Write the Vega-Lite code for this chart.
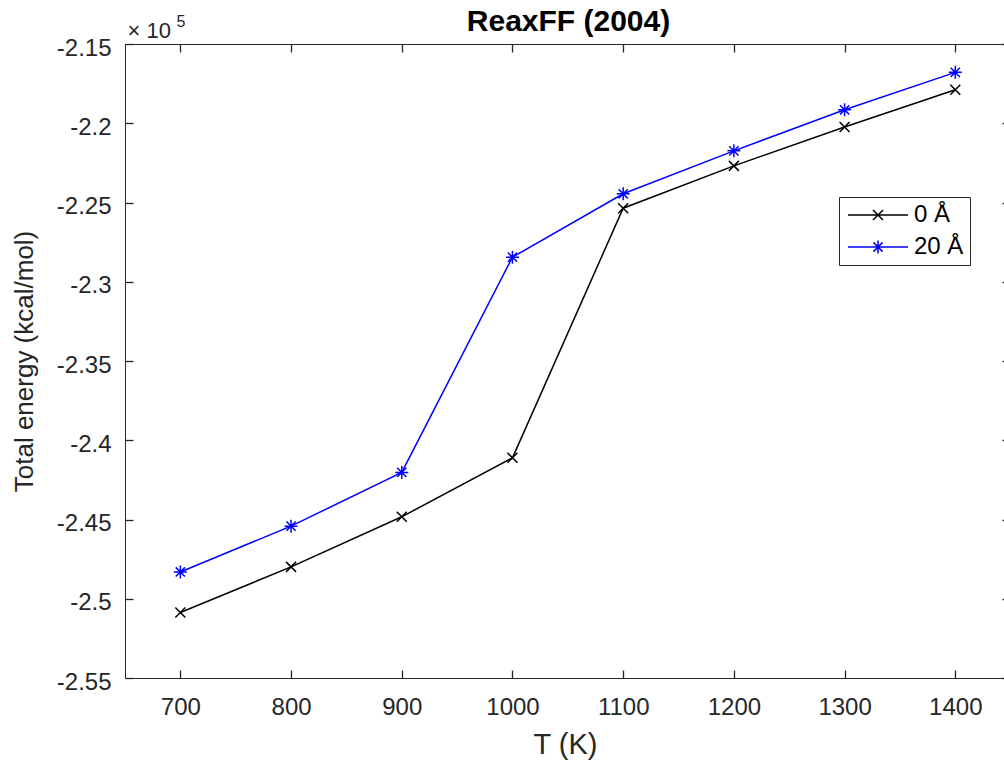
{
  "$schema": "https://vega.github.io/schema/vega-lite/v6.json",
  "width": 879,
  "height": 634,
  "autosize": {"type": "none"},
  "padding": {"left": 125, "top": 44, "right": 0, "bottom": 84},
  "background": "white",
  "config": {
    "view": {"stroke": null},
    "font": "Liberation Sans",
    "axis": {
      "grid": false,
      "domainColor": "#262626",
      "tickColor": "#262626",
      "labelColor": "#262626",
      "titleColor": "#262626",
      "labelFont": "Liberation Sans",
      "titleFont": "Liberation Sans",
      "labelFontSize": 24,
      "titleFontWeight": "normal",
      "domainWidth": 1,
      "tickWidth": 1.3,
      "ticks": true
    }
  },
  "data": {
    "values": [
      {"T": 700, "E": -250870, "series": "0 Å"},
      {"T": 800, "E": -247990, "series": "0 Å"},
      {"T": 900, "E": -244830, "series": "0 Å"},
      {"T": 1000, "E": -241110, "series": "0 Å"},
      {"T": 1100, "E": -225360, "series": "0 Å"},
      {"T": 1200, "E": -222690, "series": "0 Å"},
      {"T": 1300, "E": -220240, "series": "0 Å"},
      {"T": 1400, "E": -217890, "series": "0 Å"},
      {"T": 700, "E": -248310, "series": "20 Å"},
      {"T": 800, "E": -245420, "series": "20 Å"},
      {"T": 900, "E": -242030, "series": "20 Å"},
      {"T": 1000, "E": -228450, "series": "20 Å"},
      {"T": 1100, "E": -224450, "series": "20 Å"},
      {"T": 1200, "E": -221740, "series": "20 Å"},
      {"T": 1300, "E": -219150, "series": "20 Å"},
      {"T": 1400, "E": -216790, "series": "20 Å"}
    ]
  },
  "layer": [
    {
      "mark": {"type": "line", "strokeWidth": 1.5},
      "encoding": {
        "x": {
          "field": "T", "type": "quantitative",
          "scale": {"domain": [650, 1444], "nice": false, "zero": false},
          "axis": {
            "orient": "bottom",
            "values": [700, 800, 900, 1000, 1100, 1200, 1300, 1400],
            "format": "d",
            "ticks": true,
            "tickSize": -8,
            "labelPadding": 44.6,
            "labelBaseline": "alphabetic",
            "labelFlush": false,
            "labelOverlap": false,
            "title": "T (K)",
            "titleFontSize": 29,
            "titleX": 440,
            "titleY": 75,
            "titleBaseline": "alphabetic",
            "titleAlign": "center"
          }
        },
        "y": {
          "field": "E", "type": "quantitative",
          "scale": {"domain": [-255000, -215000], "nice": false, "zero": false},
          "axis": {
            "orient": "left",
            "values": [-255000, -250000, -245000, -240000, -235000, -230000, -225000, -220000, -215000],
            "labelExpr": "'' + datum.value / 100000",
            "ticks": true,
            "tickSize": -8,
            "labelPadding": 22,
            "labelOffset": 4,
            "labelBaseline": "middle",
            "labelFlush": false,
            "labelOverlap": false,
            "title": "Total energy (kcal/mol)",
            "titleFontSize": 26,
            "titleAngle": -90,
            "titleX": -93,
            "titleY": 317,
            "titleBaseline": "alphabetic",
            "titleAlign": "center"
          }
        },
        "color": {
          "field": "series", "type": "nominal",
          "scale": {"domain": ["0 Å", "20 Å"], "range": ["#000000", "#0000ff"]},
          "legend": null
        }
      }
    },
    {
      "mark": {"type": "point", "filled": false, "strokeWidth": 1.5, "size": 100, "opacity": 1},
      "encoding": {
        "x": {
          "field": "T", "type": "quantitative",
          "axis": {
            "orient": "top",
            "values": [700, 800, 900, 1000, 1100, 1200, 1300, 1400],
            "ticks": true,
            "tickSize": -8,
            "labels": false,
            "title": "ReaxFF (2004)",
            "titleFontSize": 30,
            "titleFontWeight": "bold",
            "titleColor": "#000000",
            "titleX": 443,
            "titleY": -13.6,
            "titleBaseline": "alphabetic",
            "titleAlign": "center",
            "titleAngle": 0
          }
        },
        "y": {
          "field": "E", "type": "quantitative",
          "axis": {
            "orient": "right",
            "values": [-255000, -250000, -245000, -240000, -235000, -230000, -225000, -220000, -215000],
            "domain": false,
            "ticks": true,
            "tickSize": -2,
            "labels": false,
            "title": "× 10",
            "titleFontSize": 22,
            "titleAngle": 0,
            "titleX": -877,
            "titleY": -7,
            "titleAlign": "left",
            "titleBaseline": "alphabetic"
          }
        },
        "color": {
          "field": "series", "type": "nominal",
          "scale": {"domain": ["0 Å", "20 Å"], "range": ["#000000", "#0000ff"]},
          "legend": null
        },
        "shape": {
          "field": "series", "type": "nominal",
          "scale": {"domain": ["0 Å", "20 Å"], "range": ["M-1,-1L1,1M-1,1L1,-1", "M-1.3,0L1.3,0M0,-1.3L0,1.3M-0.92,-0.92L0.92,0.92M-0.92,0.92L0.92,-0.92"]},
          "legend": null
        }
      }
    },
    {
      "mark": {"type": "point", "filled": false, "opacity": 0, "strokeWidth": 1.5, "size": 100},
      "encoding": {
        "x": {"field": "T", "type": "quantitative", "axis": null},
        "y": {
          "field": "E", "type": "quantitative",
          "axis": {
            "orient": "left",
            "domain": false,
            "ticks": false,
            "labels": false,
            "title": "5",
            "titleFontSize": 16,
            "titleAngle": 0,
            "titleX": 51,
            "titleY": -17.3,
            "titleAlign": "left",
            "titleBaseline": "alphabetic"
          }
        },
        "color": {
          "field": "series", "type": "nominal",
          "scale": {"domain": ["0 Å", "20 Å"], "range": ["#000000", "#0000ff"]},
          "legend": {
            "title": null,
            "orient": "none",
            "legendX": 714,
            "legendY": 153,
            "strokeColor": "#262626",
            "fillColor": "white",
            "padding": 6,
            "rowPadding": 8,
            "labelFont": "Liberation Sans",
            "labelFontSize": 24,
            "labelColor": "#000000",
            "symbolSize": 100,
            "symbolStrokeWidth": 1.5,
            "symbolOpacity": 1,
            "symbolOffset": 21,
            "labelOffset": 24
          }
        },
        "shape": {
          "field": "series", "type": "nominal",
          "scale": {"domain": ["0 Å", "20 Å"], "range": ["M-6,0L6,0M-1,-1L1,1M-1,1L1,-1", "M-6,0L6,0M-1.3,0L1.3,0M0,-1.3L0,1.3M-0.92,-0.92L0.92,0.92M-0.92,0.92L0.92,-0.92"]},
          "legend": {
            "title": null,
            "orient": "none",
            "legendX": 714,
            "legendY": 153,
            "strokeColor": "#262626",
            "fillColor": "white",
            "padding": 6,
            "rowPadding": 8,
            "labelFont": "Liberation Sans",
            "labelFontSize": 24,
            "labelColor": "#000000",
            "symbolSize": 100,
            "symbolStrokeWidth": 1.5,
            "symbolOpacity": 1,
            "symbolOffset": 21,
            "labelOffset": 24
          }
        }
      }
    }
  ],
  "resolve": {
    "axis": {"x": "independent", "y": "independent"},
    "scale": {"color": "independent", "shape": "independent"}
  }
}
